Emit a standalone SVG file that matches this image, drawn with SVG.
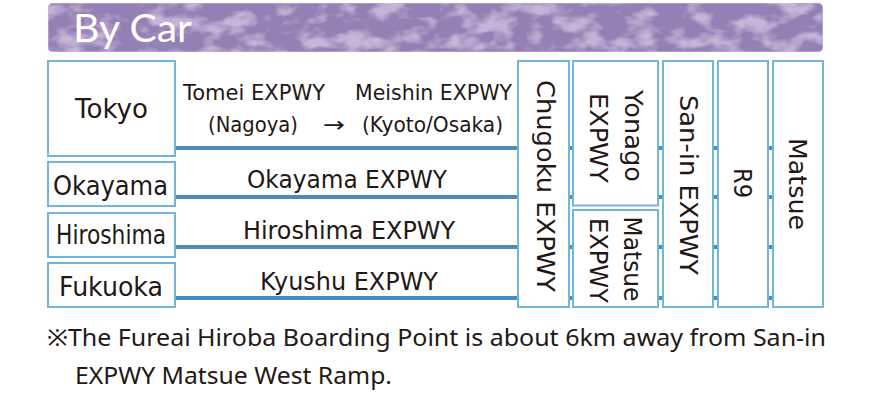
<svg xmlns="http://www.w3.org/2000/svg" width="870" height="415" viewBox="0 0 870 415">
<style>
.box{fill:#fff;stroke:#74b6da;stroke-width:2}
.road{stroke:#4a8bbf;stroke-width:4;fill:none}
.t{font-family:"DejaVu Sans","Noto Sans",sans-serif;fill:#231815}
.lbl{font-size:26px;text-anchor:middle}
.rd{font-size:24px;text-anchor:middle}
.sm{font-size:21px}
.v{font-size:25px;text-anchor:middle}
.note{font-family:"Noto Sans","Noto Sans CJK JP",sans-serif;font-size:23.5px;fill:#231815}
</style>
<defs>
<filter id="mottle" x="0" y="0" width="100%" height="100%">
<feTurbulence type="fractalNoise" baseFrequency="0.035 0.06" numOctaves="3" seed="7" result="n"/>
<feColorMatrix in="n" type="matrix" values="0 0 0 0 0.69  0 0 0 0 0.57  0 0 0 0 0.79  0 0 0 3.5 -1.6" result="c"/>
<feComponentTransfer in="c" result="c2"><feFuncA type="linear" slope="0.7"/></feComponentTransfer>
<feComposite in="c2" in2="SourceGraphic" operator="in" result="m"/>
<feMerge><feMergeNode in="SourceGraphic"/><feMergeNode in="m"/></feMerge>
</filter>
</defs>
<rect width="870" height="415" fill="#fff"/>
<g id="title">
<rect x="48" y="3" width="775" height="49" rx="5" fill="#9580b5" stroke="#c9b8dc" stroke-width="1" filter="url(#mottle)"/>
<text x="73" y="42" font-family="Lato,'Open Sans',sans-serif" font-size="38" fill="#fff" textLength="119" lengthAdjust="spacingAndGlyphs">By Car</text>
</g>
<g id="connectors">
<line class="road" x1="175" y1="148" x2="518" y2="148"/>
<line class="road" x1="175" y1="197" x2="518" y2="197"/>
<line class="road" x1="175" y1="247" x2="518" y2="247"/>
<line class="road" x1="175" y1="298" x2="518" y2="298"/>
<path class="road" d="M569 148h4M569 197h4M569 247h4M569 298h4M658 148h5M658 197h5M658 247h5M658 298h5M713 148h5M713 197h5M713 247h5M713 298h5M768 148h5M768 197h5M768 247h5M768 298h5"/>
</g>
<g id="tokyo"><rect class="box" x="48" y="61" width="127" height="95"/><text class="t lbl" x="111.5" y="118" textLength="73" lengthAdjust="spacingAndGlyphs">Tokyo</text></g>
<g id="okayama"><rect class="box" x="48" y="162" width="127" height="44"/><text class="t lbl" x="110.5" y="195" textLength="115" lengthAdjust="spacingAndGlyphs">Okayama</text></g>
<g id="hiroshima"><rect class="box" x="48" y="213" width="127" height="44"/><text class="t lbl" x="111" y="244" textLength="110" lengthAdjust="spacingAndGlyphs">Hiroshima</text></g>
<g id="fukuoka"><rect class="box" x="48" y="263" width="127" height="44"/><text class="t lbl" x="111" y="296" textLength="104" lengthAdjust="spacingAndGlyphs">Fukuoka</text></g>
<g id="road-labels">
<text class="t sm" x="183" y="100" textLength="142" lengthAdjust="spacingAndGlyphs">Tomei EXPWY</text>
<text class="t sm" x="355" y="100" textLength="157" lengthAdjust="spacingAndGlyphs">Meishin EXPWY</text>
<text class="t sm" x="208" y="132" textLength="90" lengthAdjust="spacingAndGlyphs">(Nagoya)</text>
<text class="t sm" x="323" y="132" textLength="22" lengthAdjust="spacingAndGlyphs">→</text>
<text class="t sm" x="362" y="132" textLength="141" lengthAdjust="spacingAndGlyphs">(Kyoto/Osaka)</text>
<text class="t rd" x="347" y="188" textLength="200" lengthAdjust="spacingAndGlyphs">Okayama EXPWY</text>
<text class="t rd" x="349" y="239" textLength="212" lengthAdjust="spacingAndGlyphs">Hiroshima EXPWY</text>
<text class="t rd" x="349" y="290" textLength="178" lengthAdjust="spacingAndGlyphs">Kyushu EXPWY</text>
</g>
<g id="chugoku"><rect class="box" x="518" y="61" width="51" height="246"/><text class="t v" transform="translate(537 186) rotate(90)" textLength="212" lengthAdjust="spacingAndGlyphs">Chugoku EXPWY</text></g>
<g id="yonago"><rect class="box" x="573" y="61" width="85" height="144.5"/>
<text class="t v" transform="translate(625 136) rotate(90)" textLength="92" lengthAdjust="spacingAndGlyphs">Yonago</text>
<text class="t v" transform="translate(590 138) rotate(90)" textLength="90" lengthAdjust="spacingAndGlyphs">EXPWY</text></g>
<g id="matsue-expwy"><rect class="box" x="573" y="210" width="85" height="97"/>
<text class="t v" transform="translate(624 259) rotate(90)" textLength="85" lengthAdjust="spacingAndGlyphs">Matsue</text>
<text class="t v" transform="translate(590 260.5) rotate(90)" textLength="85" lengthAdjust="spacingAndGlyphs">EXPWY</text></g>
<g id="sanin"><rect class="box" x="663" y="61" width="50" height="246"/><text class="t v" transform="translate(680 185) rotate(90)" textLength="180" lengthAdjust="spacingAndGlyphs">San-in EXPWY</text></g>
<g id="r9"><rect class="box" x="718" y="61" width="50" height="246"/><text class="t v" transform="translate(734 183) rotate(90)" textLength="30" lengthAdjust="spacingAndGlyphs">R9</text></g>
<g id="matsue"><rect class="box" x="773" y="61" width="50" height="246"/><text class="t v" transform="translate(789 184) rotate(90)" textLength="92" lengthAdjust="spacingAndGlyphs">Matsue</text></g>
<g id="note">
<text class="note" x="47" y="346" textLength="779" lengthAdjust="spacingAndGlyphs">※The Fureai Hiroba Boarding Point is about 6km away from San-in</text>
<text class="note" x="75" y="384" textLength="317" lengthAdjust="spacingAndGlyphs">EXPWY Matsue West Ramp.</text>
</g>
</svg>
